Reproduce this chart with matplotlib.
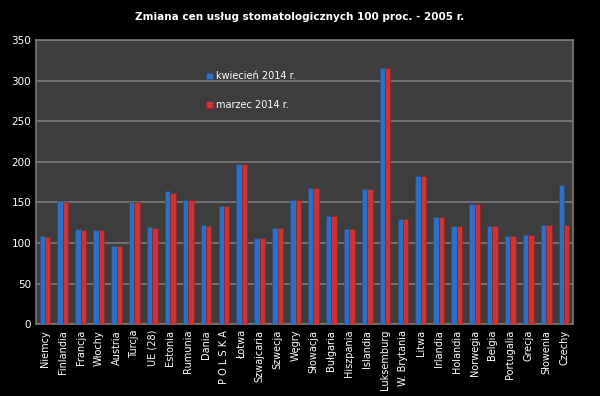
import matplotlib
matplotlib.use("Agg")
import matplotlib.pyplot as plt
import numpy as np

categories = ["Niemcy", "Finlandia", "Francja", "Włochy", "Austria", "Turcja", "UE (28)",
              "Estonia", "Rumunia", "Dania", "P O L S K A", "Łotwa", "Szwajcaria", "Szwecja",
              "Węgry", "Słowacja", "Bułgaria", "Hiszpania", "Islandia", "Luksemburg",
              "W. Brytania", "Litwa", "Irlandia", "Holandia", "Norwegia", "Belgia",
              "Portugalia", "Grecja", "Słowenia", "Czechy"]
kwiecien = [109, 152, 117, 116, 97, 151, 120, 164, 153, 122, 146, 197, 106, 119,
            153, 168, 133, 117, 167, 316, 130, 182, 132, 121, 148, 121, 109, 110, 122, 171]
marzec = [107, 151, 116, 116, 97, 151, 119, 162, 153, 121, 146, 197, 106, 119,
          153, 168, 133, 117, 167, 316, 130, 182, 132, 121, 148, 121, 109, 110, 122, 122]
yticks = [0, 50, 100, 150, 200, 250, 300, 350]

fig = plt.figure(figsize=(6.0, 3.96), dpi=100, facecolor="black")
ax = fig.add_axes([0.06, 0.181, 0.895, 0.718])
ax.set_facecolor("#3d3d3d")

x = np.arange(len(categories))
w = 0.3
ax.bar(x - w / 2, kwiecien, w, color="#2f6ec4", edgecolor="#1f4f94", linewidth=0.4,
       label="kwiecień 2014 r.", zorder=3)
ax.bar(x + w / 2, marzec, w, color="#cc3333", edgecolor="#8f2020", linewidth=0.4,
       label="marzec 2014 r.", zorder=3)

ax.set_ylim(0, 350)
ax.set_xlim(-0.5, len(categories) - 0.5)
ax.set_yticks(yticks)
ax.yaxis.grid(True, color="#7a7a7a", linewidth=1.2, zorder=1)
ax.set_xticks(x)
ax.set_xticklabels(categories, rotation=90, fontsize=7, color="white")
ax.tick_params(axis="y", colors="white", labelsize=7.5, length=0)
ax.tick_params(axis="x", length=0, pad=4)
for s in ax.spines.values():
    s.set_color("#7a7a7a")
    s.set_linewidth(1.2)

fig.text(0.5, 0.957, "Zmiana cen usług stomatologicznych 100 proc. - 2005 r.",
         ha="center", va="center", color="white", fontsize=7.5, fontweight="bold")

leg = ax.legend(loc="upper left", bbox_to_anchor=(0.3, 0.92), frameon=False,
                fontsize=7, labelcolor="white", handlelength=0.7, handleheight=0.7,
                labelspacing=1.9, handletextpad=0.3)

fig.savefig("out.png", dpi=100, facecolor="black")
